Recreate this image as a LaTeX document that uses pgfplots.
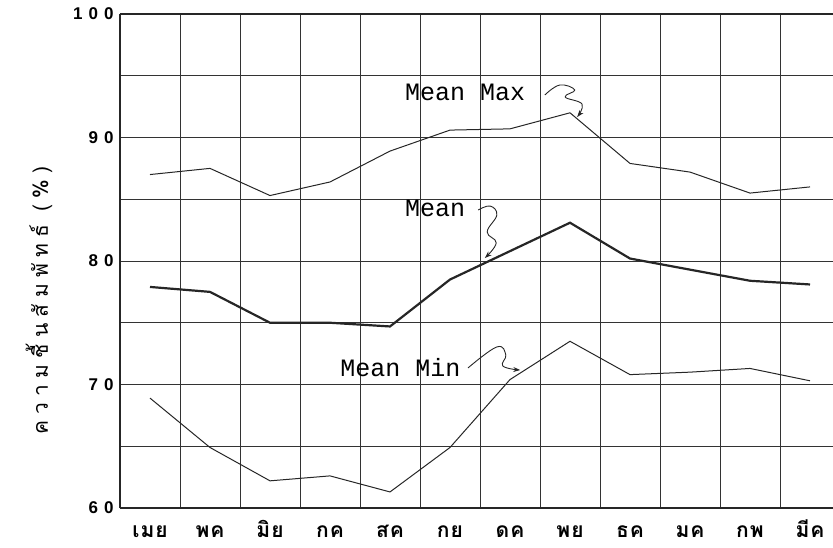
\documentclass[border=0pt]{standalone}
\usepackage{fontspec}
\usepackage{pgfplots}
\pgfplotsset{compat=1.18}
\usetikzlibrary{arrows.meta}
\newfontfamily\thaifont[Script=Thai,LetterSpace=5]{Loma}
\newfontfamily\thaiwide[Script=Thai,LetterSpace=30]{Loma}
\newfontfamily\typefont{Liberation Mono}
\newfontfamily\numfont[LetterSpace=35]{Liberation Sans}

\begin{document}
\begin{tikzpicture}
  \begin{axis}[
      scale only axis,
      width=713pt, height=494pt,
      xmin=-0.5, xmax=11.383,
      ymin=60, ymax=100,
      clip=false,
      axis x line*=box, axis y line*=left,
      axis line style={line width=1.3pt, black!85},
      xtick={0,...,11},
      xticklabels={เมย,พค,มิย,กค,สค,กย,ดค,พย,ธค,มค,กพ,มีค},
      minor xtick={0.5,1.5,...,10.5},
      ytick={60,70,80,90,100},
      minor ytick={65,75,85,95},
      xminorgrids, ymajorgrids, yminorgrids,
      major grid style={line width=0.9pt, black!80},
      minor grid style={line width=0.9pt, black!80},
      tick style={draw=none},
      /pgf/number format/assume math mode=true,
      yticklabel style={font=\numfont\bfseries\fontsize{17}{17}\selectfont, xshift=-3pt},
      xticklabel style={font=\thaifont\bfseries\fontsize{21}{21}\selectfont,
        anchor=base, yshift=-29pt},
    ]

    % Mean Max
    \addplot[black!85, line width=1pt] coordinates {
        (0,87.0) (1,87.5) (2,85.3) (3,86.4) (4,88.9) (5,90.6)
        (6,90.7) (7,92.0) (8,87.9) (9,87.2) (10,85.5) (11,86.0)
      };

    % Mean
    \addplot[black!85, line width=2.2pt] coordinates {
        (0,77.9) (1,77.5) (2,75.0) (3,75.0) (4,74.7) (5,78.5)
        (6,80.8) (7,83.1) (8,80.2) (9,79.3) (10,78.4) (11,78.1)
      };

    % Mean Min
    \addplot[black!85, line width=1pt] coordinates {
        (0,68.9) (1,64.9) (2,62.2) (3,62.6) (4,61.3) (5,64.9)
        (6,70.4) (7,73.5) (8,70.8) (9,71.0) (10,71.3) (11,70.3)
      };

    % labels
    \node[anchor=west, inner sep=0pt, font=\typefont\fontsize{25}{25}\selectfont]
      at (axis cs:4.25,93.64) {Mean Max};
    \node[anchor=west, inner sep=0pt, font=\typefont\fontsize{25}{25}\selectfont]
      at (axis cs:4.25,84.29) {Mean};
    \node[anchor=west, inner sep=0pt, font=\typefont\fontsize{25}{25}\selectfont]
      at (axis cs:3.17,71.34) {Mean Min};

    % squiggly arrows
    \draw[black!85, line width=0.9pt, -{Stealth[length=7pt,width=5pt]}]
      plot[smooth, tension=0.7] coordinates {
        (6.58,93.44) (6.83,94.25) (7.08,93.85) (6.92,93.28) (7.2,92.71) (7.12,91.66)};
    \draw[black!85, line width=0.9pt, -{Stealth[length=7pt,width=5pt]}]
      plot[smooth, tension=0.7] coordinates {
        (5.47,84.13) (5.67,84.45) (5.78,83.72) (5.62,82.35) (5.77,81.46) (5.58,80.24)};
    \draw[black!85, line width=0.9pt, -{Stealth[length=7pt,width=5pt]}]
      plot[smooth, tension=0.7] coordinates {
        (5.3,71.34) (5.78,73.04) (5.93,72.39) (5.88,71.5) (6.17,71.17)};

    % y label
    \node[rotate=90, font=\thaiwide\fontsize{21}{21}\selectfont]
      at (axis cs:-1.85,76.8) {ความชื้นสัมพัทธ์ (\%)};
  \end{axis}
  \pgfresetboundingbox
  \path (current axis.south west) ++(-120pt,-39pt) rectangle ++(833pt,547pt);
\end{tikzpicture}
\end{document}
